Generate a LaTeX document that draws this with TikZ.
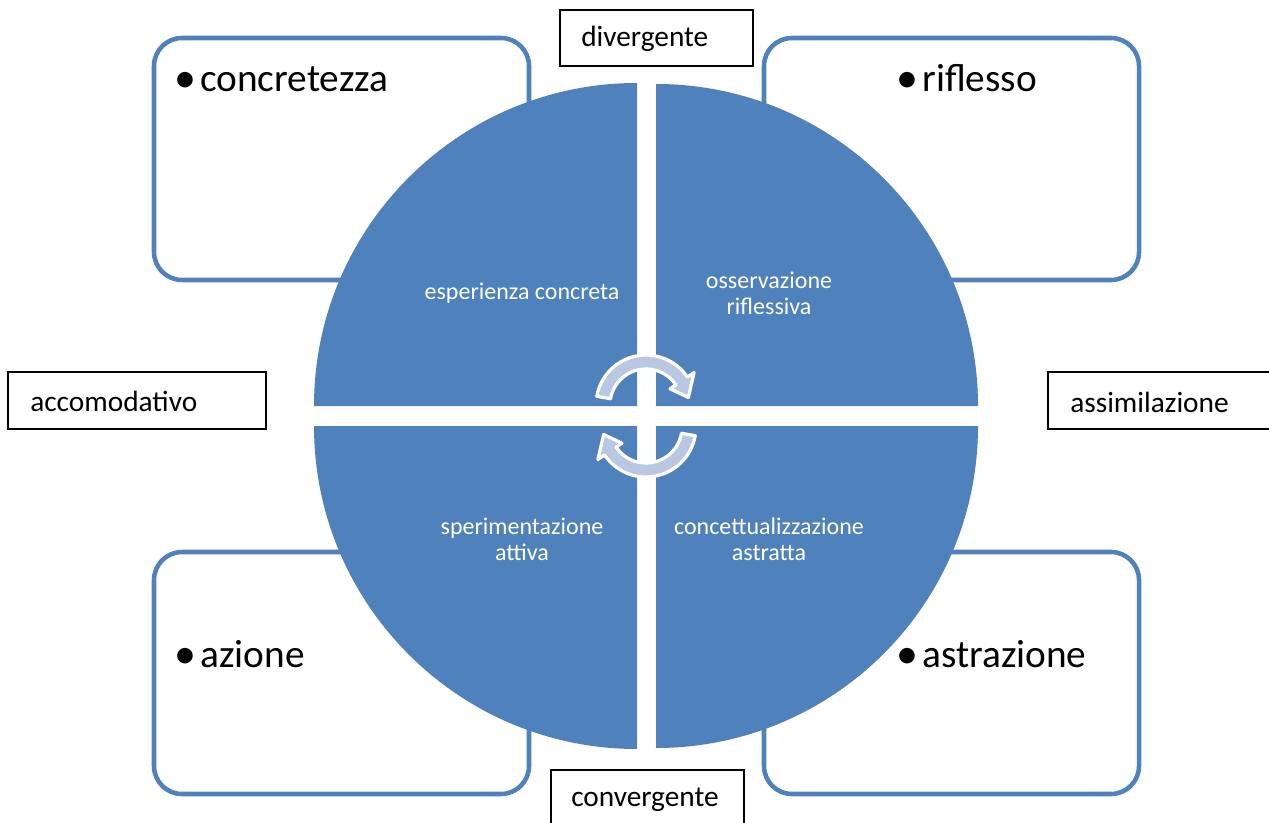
\documentclass[tikz,border=0pt]{standalone}
\usepackage{fontspec}
\setmainfont{Carlito}
\definecolor{kblue}{HTML}{4F81BD}
\definecolor{karrow}{HTML}{B9C8E2}
\begin{document}
\begin{tikzpicture}[x=0.75pt,y=-0.75pt,
  bluebox/.style={draw=kblue,line width=3.4pt,rounded corners=21pt,fill=white},
  labelbox/.style={draw=black,line width=1.1pt,fill=white},
  bigtext/.style={font=\fontsize{29.5}{34}\selectfont,inner sep=0pt,anchor=base west},
  bullettext/.style={font=\fontsize{33}{34}\selectfont,inner sep=0pt,anchor=base},
  labeltext/.style={font=\fontsize{22}{26}\selectfont,inner sep=0pt,anchor=west},
  innertext/.style={font=\fontsize{18}{19.5}\selectfont,text=white,align=center,inner sep=0pt},
  cyclearrow/.style={fill=karrow,draw=white,line width=2.4pt,line join=round}]
\useasboundingbox (0,0) rectangle (1269,823);
\clip (0,0) rectangle (1269,823);
\fill[white] (0,0) rectangle (1269,823);
% corner boxes
\draw[bluebox] (154,38) rectangle (529,280);
\draw[bluebox] (764,38) rectangle (1139,280);
\draw[bluebox] (154,552) rectangle (529,794);
\draw[bluebox] (764,552) rectangle (1139,794);
% quarter discs
\fill[kblue] (637,406) -- ++(-323,0) arc[start angle=180,end angle=270,radius=323] -- cycle;
\fill[kblue] (656,406) -- ++(322,0) arc[start angle=0,end angle=-90,radius=322] -- cycle;
\fill[kblue] (637,426) -- ++(-323,0) arc[start angle=180,end angle=90,radius=323] -- cycle;
\fill[kblue] (656,426) -- ++(322,0) arc[start angle=0,end angle=90,radius=322] -- cycle;
% cycle arrows
\begin{scope}[shift={(646,405)},yscale=-1]
\filldraw[cyclearrow] (170:50) arc[start angle=170,end angle=34,radius=50] -- (34:58) -- (10:43) -- (34:29) -- (34:36) arc[start angle=34,end angle=170,radius=36] -- cycle;
\end{scope}
\begin{scope}[shift={(646,427)},yscale=-1,rotate=180]
\filldraw[cyclearrow] (170:50) arc[start angle=170,end angle=34,radius=50] -- (34:58) -- (10:43) -- (34:29) -- (34:36) arc[start angle=34,end angle=170,radius=36] -- cycle;
\end{scope}
% big texts
\node[bullettext] (b1) at (185,93) {•};
\node[bigtext] (t1) at (200,92) {concretezza};
\node[bullettext] (b2) at (907,93) {•};
\node[bigtext] (t2) at (922,92) {riflesso};
\node[bullettext] (b3) at (185,668) {•};
\node[bigtext] (t3) at (200,667) {azione};
\node[bullettext] (b4) at (907,668) {•};
\node[bigtext] (t4) at (922,667) {astrazione};
% inner texts
\node[innertext] (i1) at (522,293) {esperienza concreta};
\node[innertext] (i2) at (769,293) {osservazione\\riflessiva};
\node[innertext] (i3) at (522,539) {sperimentazione\\attiva};
\node[innertext] (i4) at (769,539) {concettualizzazione\\astratta};
% label boxes
\draw[labelbox] (560,10) rectangle (753,66);
\node[labeltext] (div) at (581,39) {divergente};
\draw[labelbox] (551,770) rectangle (744,835);
\node[labeltext] (conv) at (571,800) {convergente};
\draw[labelbox] (8,372) rectangle (266,429);
\node[labeltext] (acc) at (30,401) {accomodativo};
\draw[labelbox] (1048,372) rectangle (1280,429);
\node[labeltext] (ass) at (1070,402) {assimilazione};
\end{tikzpicture}
\end{document}
